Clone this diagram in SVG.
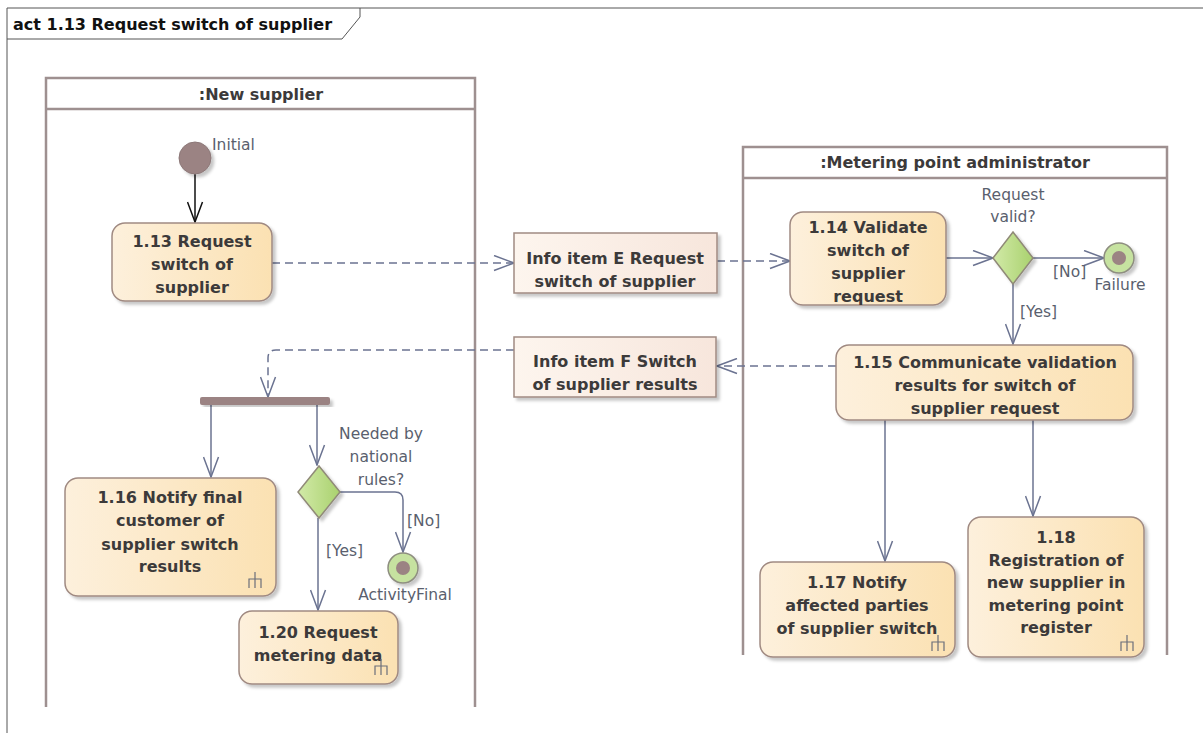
<svg xmlns="http://www.w3.org/2000/svg" width="1203" height="733" viewBox="0 0 1203 733">
<style>
.node{stroke:#a08a82;stroke-width:1.5}
.act{fill:url(#gAct)}
.info{fill:url(#gInfo)}
.t{font-family:"DejaVu Sans","Liberation Sans",sans-serif;font-weight:bold;font-size:16px;fill:#3c3a3a;text-anchor:middle}
.lbl{font-family:"DejaVu Sans","Liberation Sans",sans-serif;font-size:15.5px;fill:#5a5f6e}
.lane{fill:none;stroke:#9e9090;stroke-width:2.5}
.c{fill:none;stroke:#6b7391;stroke-width:1.5}
.d{stroke-dasharray:8,5}
.rake{fill:none;stroke:#6b6e7a;stroke-width:1.2}
</style>
<defs>
<linearGradient id="gAct" x1="0" y1="0" x2="1" y2="0">
<stop offset="0" stop-color="#fdf0dc"/><stop offset="1" stop-color="#fbe1b2"/>
</linearGradient>
<linearGradient id="gInfo" x1="0" y1="0" x2="1" y2="0">
<stop offset="0" stop-color="#fdf5ee"/><stop offset="1" stop-color="#f7e6dc"/>
</linearGradient>
<linearGradient id="gDia" x1="0" y1="0" x2="1" y2="0">
<stop offset="0" stop-color="#d2eaa8"/><stop offset="1" stop-color="#a9d16e"/>
</linearGradient>
<filter id="sh" x="-10%" y="-10%" width="130%" height="130%">
<feDropShadow dx="3" dy="3" stdDeviation="1.5" flood-color="#000" flood-opacity="0.22"/>
</filter>
<marker id="ar" viewBox="0 0 22 17" refX="21" refY="8.5" markerWidth="22" markerHeight="17" markerUnits="userSpaceOnUse" orient="auto">
<path d="M1,1 L21,8.5 L1,16" fill="none" stroke="#6b7391" stroke-width="1.5"/>
</marker>
<marker id="arB" viewBox="0 0 22 17" refX="21" refY="8.5" markerWidth="22" markerHeight="17" markerUnits="userSpaceOnUse" orient="auto">
<path d="M1,1 L21,8.5 L1,16" fill="none" stroke="#111" stroke-width="1.5"/>
</marker>
<g id="rakeIcon">
<path class="rake" d="M0,-9 V7 M-6,7 V-2 H6 V7"/>
</g>
</defs>
<rect width="1203" height="733" fill="#fff"/>

<!-- frame -->
<g id="frame">
<path d="M7,733 V8 H1203" fill="none" stroke="#555" stroke-width="1"/>
<path d="M7,39 H342 L360,17 V8" fill="none" stroke="#555" stroke-width="1"/>
<text x="13" y="30" font-family="DejaVu Sans,Liberation Sans,sans-serif" font-weight="bold" font-size="16" fill="#111">act 1.13 Request switch of supplier</text>
</g>

<!-- lanes -->
<g id="lane-new-supplier">
<path class="lane" d="M46,707 V78 H475 V707 M46,109 H475"/>
<text class="t" x="261" y="100">:New supplier</text>
</g>
<g id="lane-mpa">
<path class="lane" d="M743,655 V147 H1167 V655 M743,178 H1167"/>
<text class="t" x="955" y="168">:Metering point administrator</text>
</g>

<!-- connectors -->
<g id="connectors">
<line x1="195" y1="174" x2="195" y2="222" stroke="#111" stroke-width="1.5" marker-end="url(#arB)"/>
<line class="c d" x1="272" y1="263" x2="514" y2="263" marker-end="url(#ar)"/>
<line class="c d" x1="717" y1="261" x2="790" y2="261" marker-end="url(#ar)"/>
<line class="c" x1="946" y1="258" x2="993" y2="258" marker-end="url(#ar)"/>
<line class="c" x1="1033" y1="258" x2="1104" y2="258" marker-end="url(#ar)"/>
<line class="c" x1="1013" y1="284" x2="1013" y2="344" marker-end="url(#ar)"/>
<line class="c d" x1="836" y1="366" x2="717" y2="366" marker-end="url(#ar)"/>
<path class="c d" d="M514,350 H276 Q268,350 268,358 V397" marker-end="url(#ar)"/>
<line class="c" x1="211" y1="405" x2="211" y2="477" marker-end="url(#ar)"/>
<line class="c" x1="317" y1="405" x2="317" y2="465" marker-end="url(#ar)"/>
<path class="c" d="M340,492 H395 Q403,492 403,500 V552" marker-end="url(#ar)"/>
<line class="c" x1="318" y1="518" x2="318" y2="610" marker-end="url(#ar)"/>
<line class="c" x1="885" y1="420" x2="885" y2="561" marker-end="url(#ar)"/>
<line class="c" x1="1033" y1="420" x2="1033" y2="516" marker-end="url(#ar)"/>
<text class="lbl" x="1053" y="277">[No]</text>
<text class="lbl" x="1020" y="317">[Yes]</text>
<text class="lbl" x="407" y="526">[No]</text>
<text class="lbl" x="326" y="556">[Yes]</text>
</g>

<!-- nodes -->
<g id="initial">
<circle cx="195" cy="158" r="16" fill="#9b8383" stroke="#8c7878" stroke-width="1" filter="url(#sh)"/>
<text class="lbl" x="212" y="150">Initial</text>
</g>

<g id="a113">
<rect class="node act" x="112" y="223" width="160" height="78" rx="13" filter="url(#sh)"/>
<text class="t" x="192" y="247">1.13 Request</text>
<text class="t" x="192" y="270">switch of</text>
<text class="t" x="192" y="293">supplier</text>
</g>

<g id="infoE">
<rect class="node info" x="514" y="233" width="203" height="60" filter="url(#sh)"/>
<text class="t" x="615" y="264">Info item E Request</text>
<text class="t" x="615" y="287">switch of supplier</text>
</g>

<g id="a114">
<rect class="node act" x="790" y="212" width="156" height="93" rx="13" filter="url(#sh)"/>
<text class="t" x="868" y="233">1.14 Validate</text>
<text class="t" x="868" y="256">switch of</text>
<text class="t" x="868" y="279">supplier</text>
<text class="t" x="868" y="302">request</text>
</g>

<g id="dec1">
<path d="M1013,232 L1033,258 L1013,284 L993,258 Z" fill="url(#gDia)" stroke="#908a78" stroke-width="1.5" filter="url(#sh)"/>
<text class="lbl" x="1013" y="200" text-anchor="middle">Request</text>
<text class="lbl" x="1013" y="222" text-anchor="middle">valid?</text>
</g>

<g id="failure">
<circle cx="1119" cy="258" r="15" fill="#c6e2a0" stroke="#8e8e80" stroke-width="1.5" filter="url(#sh)"/>
<circle cx="1119" cy="258" r="7" fill="#9b8383"/>
<text class="lbl" x="1120" y="290" text-anchor="middle">Failure</text>
</g>

<g id="a115">
<rect class="node act" x="836" y="345" width="297" height="75" rx="13" filter="url(#sh)"/>
<text class="t" x="985" y="368">1.15 Communicate validation</text>
<text class="t" x="985" y="391">results for switch of</text>
<text class="t" x="985" y="414">supplier request</text>
</g>

<g id="infoF">
<rect class="node info" x="514" y="337" width="202" height="60" filter="url(#sh)"/>
<text class="t" x="615" y="367">Info item F Switch</text>
<text class="t" x="615" y="390">of supplier results</text>
</g>

<g id="fork">
<rect x="200" y="397" width="130" height="8" rx="2" fill="#9b8383" filter="url(#sh)"/>
</g>

<g id="a116">
<rect class="node act" x="65" y="478" width="211" height="118" rx="13" filter="url(#sh)"/>
<text class="t" x="170" y="503">1.16 Notify final</text>
<text class="t" x="170" y="526">customer of</text>
<text class="t" x="170" y="550">supplier switch</text>
<text class="t" x="170" y="572">results</text>
<use href="#rakeIcon" x="255" y="581"/>
</g>

<g id="dec2">
<path d="M319,466 L340,492 L319,518 L298,492 Z" fill="url(#gDia)" stroke="#908a78" stroke-width="1.5" filter="url(#sh)"/>
<text class="lbl" x="381" y="439" text-anchor="middle">Needed by</text>
<text class="lbl" x="381" y="462" text-anchor="middle">national</text>
<text class="lbl" x="381" y="485" text-anchor="middle">rules?</text>
</g>

<g id="activityFinal">
<circle cx="403" cy="568" r="15" fill="#c6e2a0" stroke="#8e8e80" stroke-width="1.5" filter="url(#sh)"/>
<circle cx="403" cy="568" r="7" fill="#9b8383"/>
<text class="lbl" x="405" y="600" text-anchor="middle">ActivityFinal</text>
</g>

<g id="a120">
<rect class="node act" x="239" y="611" width="159" height="73" rx="13" filter="url(#sh)"/>
<text class="t" x="318" y="638">1.20 Request</text>
<text class="t" x="318" y="661">metering data</text>
<use href="#rakeIcon" x="381" y="668"/>
</g>

<g id="a117">
<rect class="node act" x="760" y="562" width="195" height="95" rx="13" filter="url(#sh)"/>
<text class="t" x="857" y="588">1.17 Notify</text>
<text class="t" x="857" y="611">affected parties</text>
<text class="t" x="857" y="634">of supplier switch</text>
<use href="#rakeIcon" x="938" y="644"/>
</g>

<g id="a118">
<rect class="node act" x="968" y="517" width="176" height="140" rx="13" filter="url(#sh)"/>
<text class="t" x="1056" y="543">1.18</text>
<text class="t" x="1056" y="566">Registration of</text>
<text class="t" x="1056" y="588">new supplier in</text>
<text class="t" x="1056" y="611">metering point</text>
<text class="t" x="1056" y="633">register</text>
<use href="#rakeIcon" x="1127" y="644"/>
</g>
</svg>
